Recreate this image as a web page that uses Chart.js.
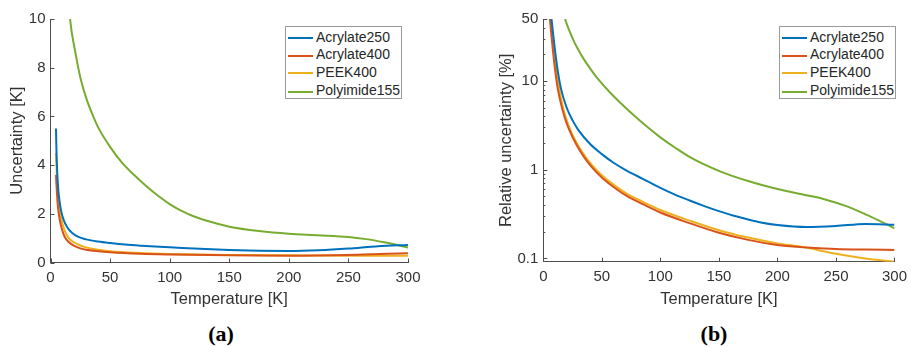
<!DOCTYPE html>
<html>
<head>
<meta charset="utf-8">
<script src="https://cdn.jsdelivr.net/npm/chart.js@4.4.0/dist/chart.umd.min.js"></script>
<style>
    body { margin: 0; background: #fff; width: 913px; height: 347px; position: relative; overflow: hidden; font-family: "Liberation Sans", Arial, sans-serif; }
    canvas { position: absolute; top: 0; }
    .legend { position: absolute; top: 26px; width: 115px; height: 71px; border: 1px solid #9a9a9a; background: #fff; }
    .legend .row { position: absolute; left: 2px; height: 18px; line-height: 18px; font-size: 14px; color: #262626; white-space: nowrap; }
    .legend .swatch { display: inline-block; width: 25px; height: 2px; vertical-align: middle; margin-right: 3px; }
    .caption { position: absolute; top: 321px; font-family: "Liberation Serif", "DejaVu Serif", serif; font-weight: bold; font-size: 22px; color: #000; transform: translateX(-50%); }
</style>
</head>
<body>
<canvas id="chartA" width="456" height="313" style="left:0px"></canvas>
<canvas id="chartB" width="425" height="313" style="left:488px"></canvas>
<div class="legend" id="legendA" style="left:285px"></div>
<div class="legend" id="legendB" style="left:779px"></div>
<div class="caption" style="left:221px">(a)</div>
<div class="caption" style="left:714px">(b)</div>

<script>
// ============================================
// Data
// ============================================

const seriesLabels = ['Acrylate250', 'Acrylate400', 'PEEK400', 'Polyimide155'];
const seriesColors = ['#0072BD', '#D95319', '#EDB120', '#77AC30'];

// (a) absolute uncertainty [K]
const tempA250a = [4.6, 5, 5.5, 6.5, 7.5, 9, 11, 14, 18, 23, 30, 40, 50, 65, 80, 100, 125, 150, 175, 200, 225, 250, 275, 300];
const uncA250 = [5.5, 4.6, 3.85, 3.0, 2.55, 2.1, 1.75, 1.45, 1.22, 1.06, 0.95, 0.86, 0.8, 0.73, 0.68, 0.63, 0.56, 0.51, 0.48, 0.47, 0.5, 0.57, 0.67, 0.72];

const tempA400a = [4.6, 5, 5.5, 6.2, 7.1, 8.5, 10, 12, 15, 20, 25, 30, 40, 50, 75, 100, 150, 200, 250, 300];
const uncA400 = [3.6, 3.2, 2.75, 2.3, 1.95, 1.58, 1.3, 1.05, 0.85, 0.68, 0.58, 0.52, 0.46, 0.42, 0.36, 0.33, 0.295, 0.28, 0.31, 0.38];

const tempP400a = [4.6, 5, 5.5, 6.3, 7.2, 8.2, 10, 12, 15, 20, 25, 30, 40, 50, 75, 100, 150, 200, 250, 300];
const uncP400 = [4.5, 3.95, 3.35, 2.7, 2.25, 1.95, 1.6, 1.3, 1.02, 0.82, 0.7, 0.62, 0.52, 0.46, 0.39, 0.35, 0.31, 0.296, 0.28, 0.275];

const tempPI155a = [16.4, 18, 20, 22.5, 25, 30, 35, 40, 50, 60, 70, 80, 90, 100, 110, 120, 135, 150, 175, 200, 225, 250, 265, 280, 300];
const uncPI155 = [10, 9.4, 8.85, 8.2, 7.6, 6.75, 6.1, 5.55, 4.75, 4.1, 3.6, 3.15, 2.75, 2.4, 2.12, 1.9, 1.66, 1.47, 1.29, 1.18, 1.12, 1.05, 0.96, 0.83, 0.62];

// (b) relative uncertainty [%]
const tempA250b = [7, 8, 9.7, 12, 15.3, 20, 25, 30, 40, 50, 60, 70, 85, 100, 112, 125, 137, 150, 162, 175, 187, 200, 225, 250, 275, 300];
const relA250 = [50, 38, 24, 14, 8, 5.0, 3.6, 2.8, 1.95, 1.5, 1.2, 1.0, 0.79, 0.625, 0.528, 0.45, 0.392, 0.342, 0.305, 0.275, 0.253, 0.238, 0.226, 0.232, 0.245, 0.24];

const tempA400b = [5.6, 7, 7.8, 9, 11.1, 12.5, 15, 18, 22, 28, 35, 42, 50, 60, 72, 85, 100, 125, 150, 175, 200, 222, 250, 275, 300];
const relA400 = [50, 32, 25, 17.5, 10.5, 8, 5.6, 4.0, 2.85, 1.95, 1.38, 1.05, 0.82, 0.64, 0.5, 0.41, 0.33, 0.25, 0.195, 0.162, 0.142, 0.134, 0.128, 0.126, 0.125];

const tempP400b = [6.4, 7.5, 8.5, 10, 11.8, 15, 18, 22, 28, 35, 42, 50, 60, 72, 85, 100, 125, 150, 175, 200, 220, 250, 275, 300];
const relP400 = [50, 34, 25.5, 17, 11.5, 6.5, 4.4, 3.05, 2.05, 1.46, 1.11, 0.87, 0.68, 0.53, 0.435, 0.352, 0.267, 0.208, 0.172, 0.148, 0.136, 0.113, 0.1, 0.092];

const tempPI155b = [18.6, 20, 22, 25, 29.2, 35, 43, 49, 57, 66, 78, 90, 100, 113, 126, 151, 175, 200, 225, 240, 260, 280, 300];
const relPI155 = [50, 44, 37.6, 30.3, 23.4, 17.3, 12.2, 9.7, 7.43, 5.65, 4.04, 2.95, 2.32, 1.76, 1.37, 0.96, 0.746, 0.607, 0.516, 0.466, 0.384, 0.294, 0.219];

// axis ticks
const xTicks = [0, 50, 100, 150, 200, 250, 300];
const yTicksA = [0, 2, 4, 6, 8, 10];
const yTicksB = [0.1, 1, 10, 50];
const yMinorB = [0.2, 0.3, 0.4, 0.5, 0.6, 0.7, 0.8, 0.9, 2, 3, 4, 5, 6, 7, 8, 9, 20, 30, 40];

// ============================================
// Helpers
// ============================================

const AXIS_COLOR = '#4d4d4d';
const TEXT_COLOR = '#333333';
const FONT = 'Liberation Sans';

const pts = (t, v) => t.map((x, i) => ({ x: x, y: v[i] }));

// MATLAB-style ticks pointing into the plot
const inwardTicks = {
    id: 'inwardTicks',
    afterDraw(chart, args, opts) {
        const { ctx, chartArea, scales } = chart;
        ctx.save();
        ctx.strokeStyle = AXIS_COLOR;
        ctx.lineWidth = 1;
        ctx.beginPath();
        scales.x.ticks.forEach(t => {
            const px = Math.round(scales.x.getPixelForValue(t.value)) + 0.5;
            ctx.moveTo(px, chartArea.bottom);
            ctx.lineTo(px, chartArea.bottom - 4);
        });
        scales.y.ticks.forEach(t => {
            const py = Math.round(scales.y.getPixelForValue(t.value)) + 0.5;
            ctx.moveTo(chartArea.left, py);
            ctx.lineTo(chartArea.left + 4, py);
        });
        (opts.yMinor || []).forEach(v => {
            const py = Math.round(scales.y.getPixelForValue(v)) + 0.5;
            ctx.moveTo(chartArea.left, py);
            ctx.lineTo(chartArea.left + 2, py);
        });
        ctx.stroke();
        ctx.restore();
    }
};

function makeDatasets(seriesPts) {
    return seriesPts.map((data, i) => ({
        label: seriesLabels[i],
        data: data,
        borderColor: seriesColors[i],
        borderWidth: 2,
        pointRadius: 0,
        fill: false,
        cubicInterpolationMode: 'monotone'
    }));
}

function makeChart(id, datasets, yScale, yTitle, yWidth, yTitlePad, minor) {
    const tickFont = { family: FONT, size: 15 };
    const titleFont = { family: FONT, size: 16.5 };
    const plotBottom = id === 'chartA' ? 262.5 : 261.7;
    return new Chart(document.getElementById(id), {
        type: 'line',
        data: { datasets: datasets },
        options: {
            responsive: false,
            animation: false,
            devicePixelRatio: 1,
            layout: { padding: { top: 19, right: id === 'chartA' ? 48 : 11, left: 0, bottom: 0 } },
            plugins: {
                legend: { display: false },
                tooltip: { enabled: false },
                inwardTicks: { yMinor: minor }
            },
            scales: {
                x: {
                    type: 'linear',
                    min: 0,
                    max: 300,
                    afterBuildTicks: s => { s.ticks = xTicks.map(v => ({ value: v })); },
                    ticks: { font: tickFont, color: TEXT_COLOR, padding: 6, maxRotation: 0 },
                    grid: { display: false, drawTicks: false },
                    border: { color: AXIS_COLOR, width: 1 },
                    title: { display: true, text: 'Temperature [K]', font: titleFont, color: TEXT_COLOR, padding: { top: 4, bottom: 4 } },
                    afterFit: s => { s.height = 313 - plotBottom; }
                },
                y: Object.assign({
                    ticks: { font: tickFont, color: TEXT_COLOR, padding: 5, callback: v => String(v) },
                    grid: { display: false, drawTicks: false },
                    border: { color: AXIS_COLOR, width: 1 },
                    title: { display: true, text: yTitle, font: titleFont, color: TEXT_COLOR, padding: { top: yTitlePad, bottom: 0 } },
                    afterFit: s => { s.width = yWidth; }
                }, yScale)
            }
        },
        plugins: [inwardTicks]
    });
}

function buildLegend(id) {
    const box = document.getElementById(id);
    const rowCenters = [9.7, 27.3, 45, 63.3];
    seriesLabels.forEach((label, i) => {
        const row = document.createElement('div');
        row.className = 'row';
        row.style.top = (rowCenters[i] - 9) + 'px';
        row.innerHTML = '<span class="swatch" style="background:' + seriesColors[i] + '"></span>' + label;
        box.appendChild(row);
    });
}

// ============================================
// Render
// ============================================

makeChart('chartA',
    makeDatasets([pts(tempA250a, uncA250), pts(tempA400a, uncA400), pts(tempP400a, uncP400), pts(tempPI155a, uncPI155)]),
    {
        type: 'linear', min: 0, max: 10,
        afterBuildTicks: s => { s.ticks = yTicksA.map(v => ({ value: v })); }
    },
    'Uncertainty [K]', 50.5, 7.6, []);

makeChart('chartB',
    makeDatasets([pts(tempA250b, relA250), pts(tempA400b, relA400), pts(tempP400b, relP400), pts(tempPI155b, relPI155)]),
    {
        type: 'logarithmic', min: 0.092, max: 50,
        afterBuildTicks: s => { s.ticks = yTicksB.map(v => ({ value: v })); }
    },
    'Relative uncertainty [%]', 55.3, 8.8, yMinorB);

buildLegend('legendA');
buildLegend('legendB');
</script>
</body>
</html>
